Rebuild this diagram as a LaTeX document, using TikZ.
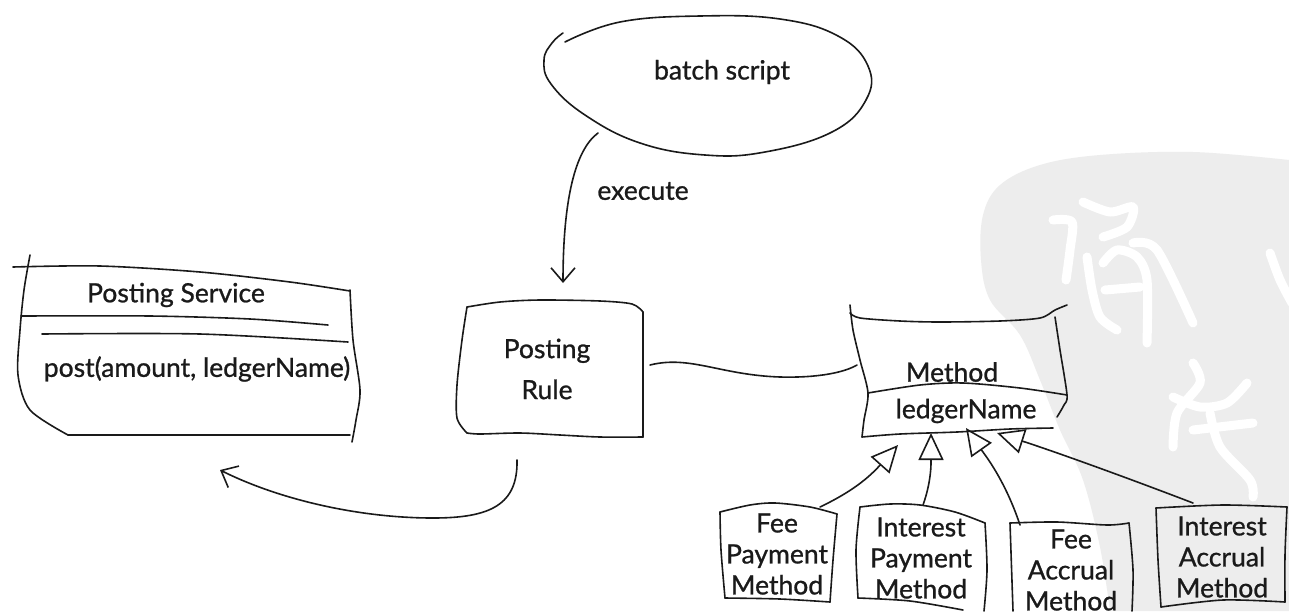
\documentclass[tikz,border=0pt]{standalone}
\usepackage{fontspec}
\setmainfont{Lato}[FakeBold=0.9]
\usetikzlibrary{arrows.meta}
\definecolor{ink}{HTML}{1A1A1A}
\definecolor{wm}{HTML}{EDEDED}
\begin{document}
\begin{tikzpicture}[x=1pt,y=-1pt,
  sk/.style={line width=1.6pt, line cap=round, line join=round, draw=ink},
  lbl/.style={font=\fontsize{26.5}{31}\selectfont, align=center, inner sep=0pt, text=ink},
  gen/.style={sk, -{Triangle[open, length=27pt, width=25pt, line width=1.6pt]}},
  dep/.style={sk, -{Straight Barb[length=14pt, width=24pt, line width=1.6pt]}},
  wmstroke/.style={draw=white, line width=9pt, line cap=round, line join=round}]
\path[use as bounding box] (0,0) rectangle (1289,611);
\fill[white] (0,0) rectangle (1289,611);
% watermark
\fill[wm] plot[smooth, tension=0.6] coordinates {(1289,160) (1193,152) (1100,155) (1040,165) (1000,185) (983,215) (981,260) (990,300) (1020,335) (1040,380) (1060,430) (1083,480) (1100,547) (1110,611)} -- (1289,611) -- cycle;
\draw[wmstroke] plot[smooth] coordinates {(1053,220) (1072,222) (1070,250) (1066,280)};
\draw[wmstroke] plot[smooth] coordinates {(1083,202) (1110,212) (1133,207) (1127,227) (1103,237)};
\draw[wmstroke] plot[smooth] coordinates {(1087,257) (1092,290) (1100,317) (1117,330)};
\draw[wmstroke] plot[smooth] coordinates {(1103,263) (1117,250) (1137,257) (1147,280) (1147,343)};
\draw[wmstroke] plot[smooth] coordinates {(1133,243) (1157,250) (1193,323)};
\draw[wmstroke] (1105,290) -- (1140,287);
\draw[wmstroke] plot[smooth] coordinates {(1193,363) (1200,383) (1177,413) (1173,447)};
\draw[wmstroke] plot[smooth] coordinates {(1173,397) (1200,407) (1227,403) (1247,383)};
\draw[wmstroke] (1193,430) -- (1253,423);
\draw[wmstroke] plot[smooth] coordinates {(1210,413) (1220,447) (1250,480) (1253,497)};
\draw[wmstroke] plot[smooth] coordinates {(1270,253) (1280,280) (1292,303)};

% batch script ellipse
\draw[sk] plot[smooth, tension=0.7] coordinates {(565,42) (620,22) (700,16) (780,19) (838,36) (868,66) (866,100) (832,132) (765,152) (705,155) (640,143) (585,115) (551,84) (544,60) (552,43) (563,33)};
\node[lbl] (bs) at (722,72) {batch script};
\node[lbl] (ex) at (643,191) {execute};

% Posting Service
\draw[sk] plot[smooth] coordinates {(13,267) (100,266) (200,272) (290,282) (350,291)};
\draw[sk] plot[smooth] coordinates {(30,255) (24,290) (20,330) (18,375) (30,410) (68,435)};
\draw[sk] (68,435) -- (350,435);
\draw[sk] plot[smooth] coordinates {(350,290) (353,340) (360,390) (356,420) (352,442)};
\draw[sk] plot[smooth] coordinates {(21,316) (150,316) (250,319) (328,325)};
\draw[sk] plot[smooth] coordinates {(42,334) (200,334) (348,342)};
\node[lbl] (ps) at (176,295) {Posting Service};
\node[lbl] (psop) at (197,369) {post(amount, ledgerName)};

% Posting Rule
\draw[sk] plot[smooth] coordinates {(467,307) (500,302) (540,300) (600,301) (632,304) (643,312)};
\draw[sk] (643,312) -- (643,437);
\draw[sk] plot[smooth] coordinates {(643,437) (600,437) (560,435) (520,433) (480,434) (467,433)};
\draw[sk] plot[smooth] coordinates {(467,433) (457,418) (457,385) (462,340) (467,307)};
\node[lbl] (pr) at (547,369) {Posting\\[10pt]Rule};

% Method
\draw[sk] plot[smooth] coordinates {(850,313) (860,318) (900,321) (940,322) (1000,321) (1040,318) (1055,310) (1067,305)};
\draw[sk] plot[smooth] coordinates {(850,305) (853,330) (860,360) (868,393) (864,420) (862,437)};
\draw[sk] plot[smooth] coordinates {(868,393) (920,385) (963,383) (1020,388) (1067,395)};
\draw[sk] plot[smooth] coordinates {(1055,317) (1060,350) (1067,395) (1064,405) (1057,417)};
\draw[sk] plot[smooth] coordinates {(862,437) (900,434) (957,432) (1010,429) (1053,428)};
\node[lbl] (me) at (952,372) {Method};
\node[lbl] (mea) at (966,411) {ledgerName};

% subclasses
\draw[sk] plot[smooth] coordinates {(720,512) (750,505) (775,503) (810,507) (837,514)};
\draw[sk] plot[smooth] coordinates {(837,514) (833,560) (830,602)};
\draw[sk] plot[smooth] coordinates {(830,602) (780,599) (725,598)};
\draw[sk] plot[smooth] coordinates {(725,598) (721,550) (720,512)};
\node[lbl] (fpm) at (777,554) {Fee\\Payment\\Method};

\draw[sk] plot[smooth] coordinates {(860,507) (890,504) (920,505) (955,512) (985,523)};
\draw[sk] plot[smooth] coordinates {(985,523) (987,570) (984,611)};
\draw[sk] plot[smooth] coordinates {(858,598) (910,601) (963,610)};
\draw[sk] plot[smooth] coordinates {(858,598) (856,550) (860,507)};
\node[lbl] (ipm) at (921,558) {Interest\\Payment\\Method};

\draw[sk] plot[smooth] coordinates {(1010,523) (1057,522) (1107,525) (1129,523)};
\draw[sk] plot[smooth] coordinates {(1129,523) (1133,570) (1132,611)};
\draw[sk] (1010,523) -- (1013,611);
\node[lbl] (fam) at (1071,570) {Fee\\Accrual\\Method};

\draw[sk] plot[smooth] coordinates {(1156,508) (1223,505) (1287,507)};
\draw[sk] plot[smooth] coordinates {(1287,507) (1285,555) (1285,602)};
\draw[sk] plot[smooth] coordinates {(1161,607) (1223,600) (1285,602)};
\draw[sk] plot[smooth] coordinates {(1156,508) (1158,560) (1161,607)};
\node[lbl] (iam) at (1222,557) {Interest\\Accrual\\Method};

% connector end points
\coordinate (bs-s) at (598,133);
\coordinate (pr-n) at (563,283);
\coordinate (pr-s) at (517,460);
\coordinate (ps-se) at (220,470);
\coordinate (pr-e) at (650,365);
\coordinate (me-w) at (857,365);
\coordinate (fpm-n) at (820,507);
\coordinate (ipm-n) at (923,505);
\coordinate (fam-n) at (1020,525);
\coordinate (iam-n) at (1193,503);
\coordinate (me-s1) at (898,445);
\coordinate (me-s2) at (931,433);
\coordinate (me-s3) at (966,428);
\coordinate (me-s4) at (997,433);

\draw[dep] (bs-s) .. controls (575,150) and (563,200) .. (pr-n);
\draw[dep] (pr-s) .. controls (518,505) and (490,518) .. (433,518) .. controls (360,518) and (280,500) .. (ps-se);
\draw[sk] (pr-e) .. controls (690,355) and (720,375) .. (780,377) .. controls (820,378) and (845,372) .. (me-w);
\draw[gen] (fpm-n) .. controls (845,495) and (865,482) .. (me-s1);
\draw[gen] (ipm-n) .. controls (932,480) and (931,460) .. (me-s2);
\draw[gen] (fam-n) .. controls (1005,480) and (985,455) .. (me-s3);
\draw[gen] (iam-n) .. controls (1120,475) and (1050,450) .. (me-s4);
\end{tikzpicture}
\end{document}
